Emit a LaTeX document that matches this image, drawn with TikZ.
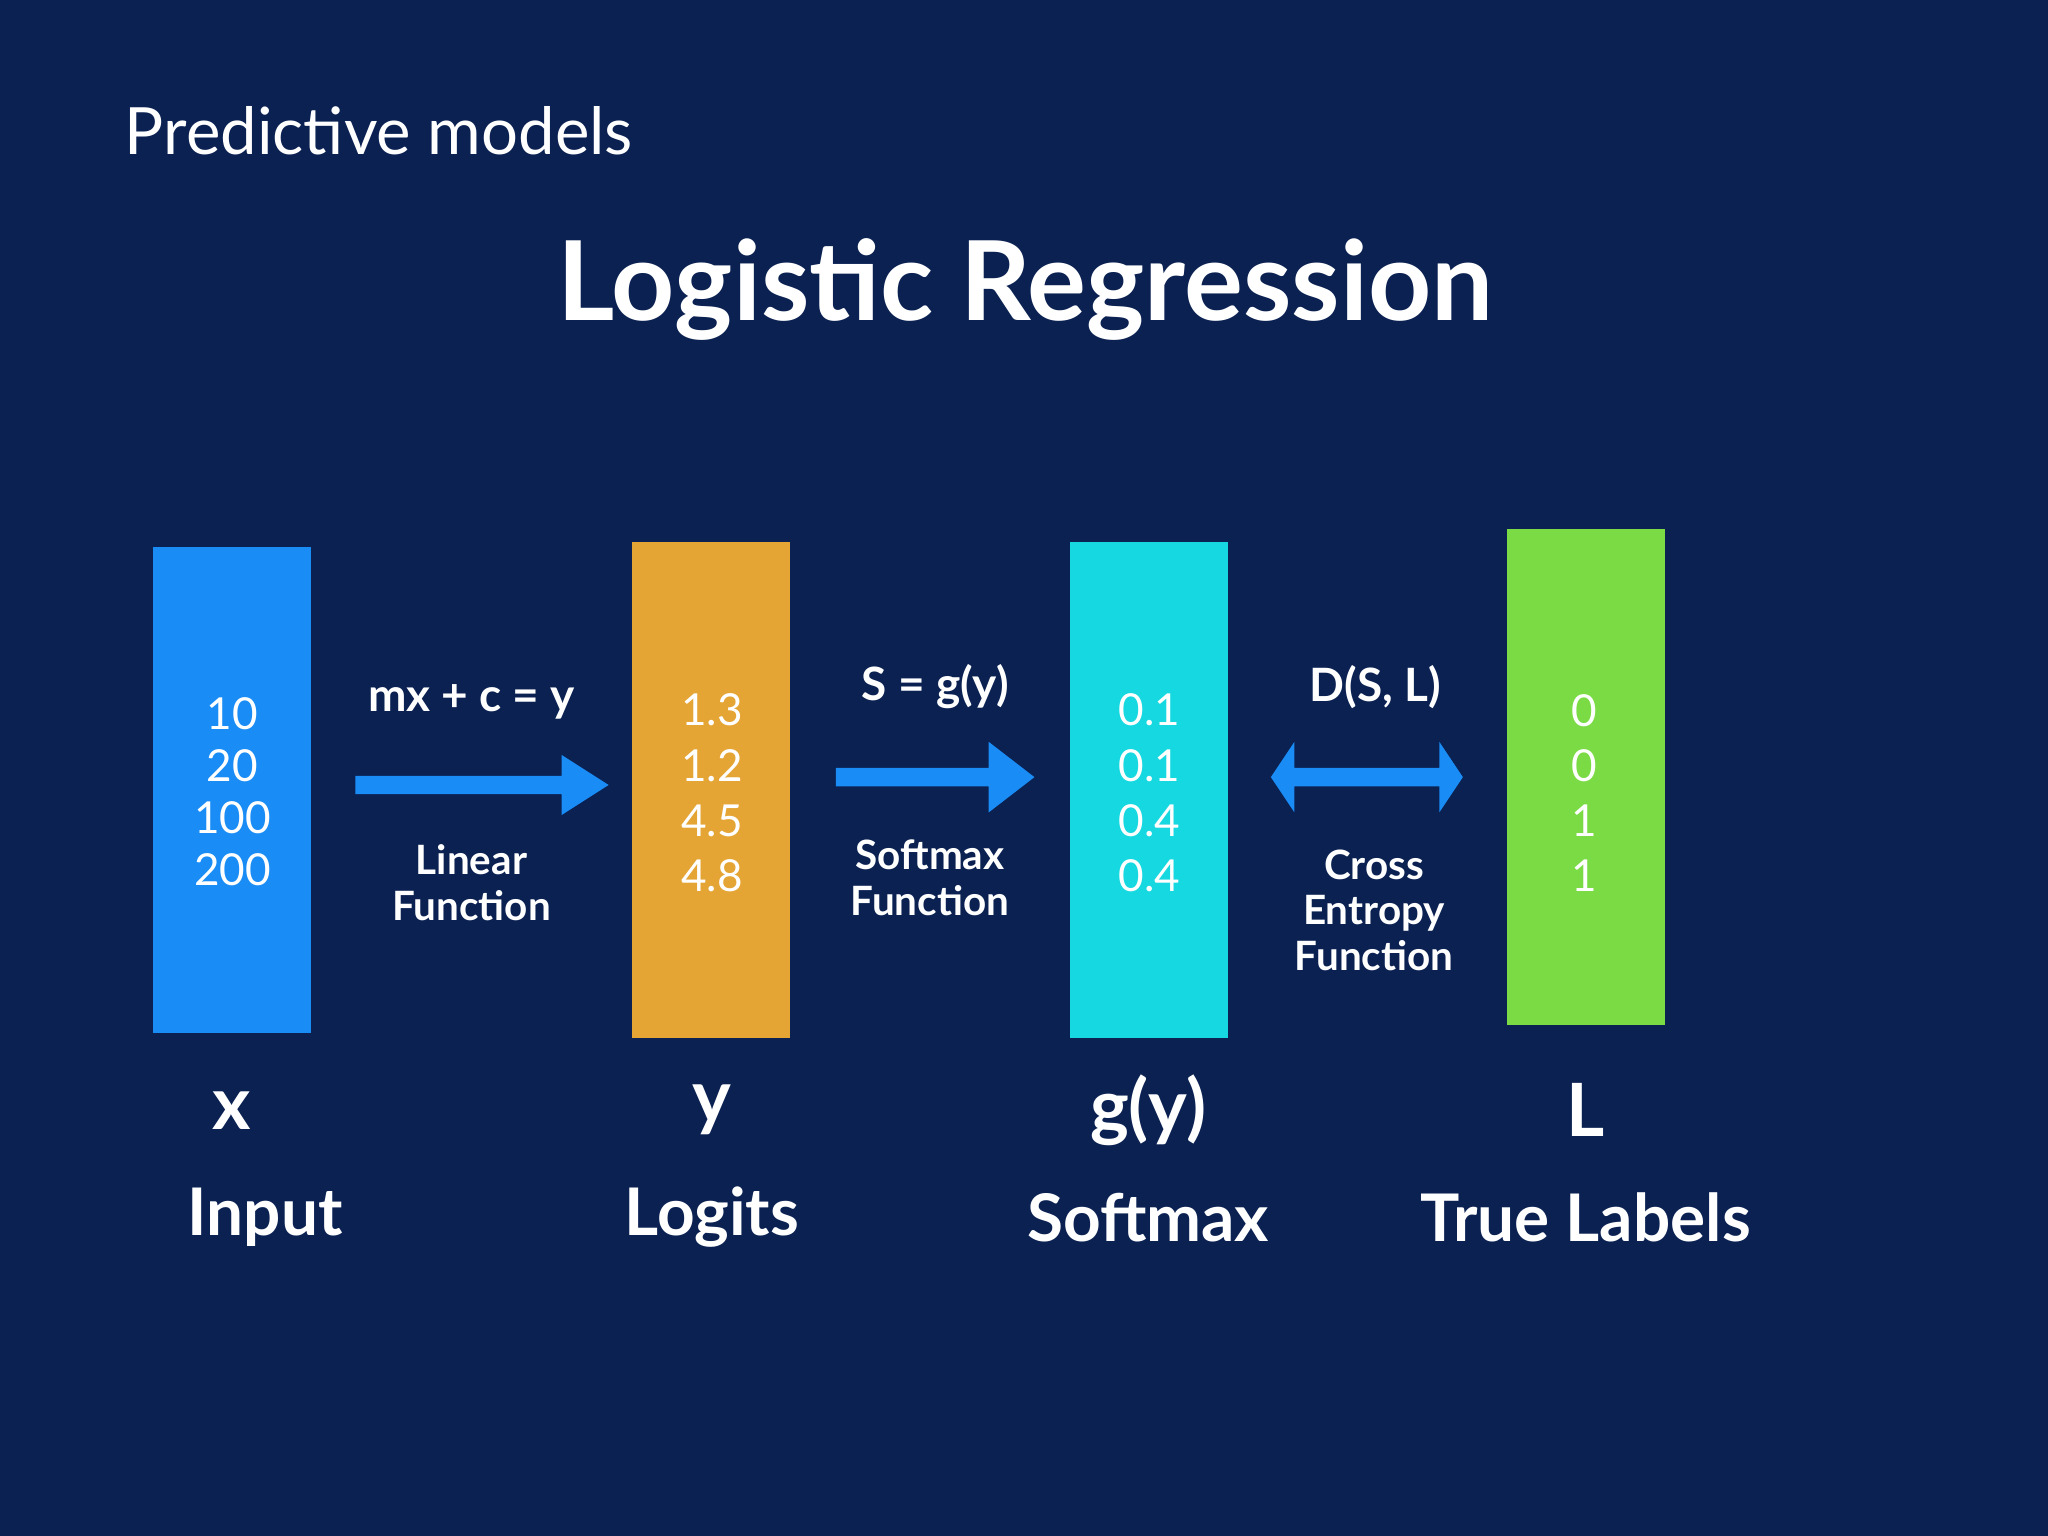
\documentclass[tikz,border=0pt]{standalone}
\usepackage{fontspec}
\setmainfont{Lato}
\definecolor{bg}{HTML}{0A2152}
\definecolor{barblue}{HTML}{1A8CF5}
\definecolor{barorange}{HTML}{E5A535}
\definecolor{barcyan}{HTML}{16D8E0}
\definecolor{bargreen}{HTML}{7ADB45}
\begin{document}
\begin{tikzpicture}[x=0.01cm,y=-0.01cm,
  nums/.style={white,font=\fontsize{9.6}{12}\selectfont,align=center},
  formula/.style={white,font=\bfseries\fontsize{10}{10}\selectfont,align=center},
  small/.style={white,font=\bfseries\fontsize{8.8}{10}\selectfont,align=center},
  var/.style={white,font=\bfseries\fontsize{16}{20}\selectfont},
  big/.style={white,font=\bfseries\fontsize{14.3}{18}\selectfont},
  blk/.style={fill=barblue,draw=none}]
\fill[bg] (0,0) rectangle (1568,1176);
\node[white,anchor=west,inner sep=0pt,font=\fontsize{14.2}{18}\selectfont] (sub) at (95,100) {Predictive models};
\node[white,font=\bfseries\fontsize{24}{28}\selectfont] (title) at (785,222) {Logistic Regression};
% bars
\fill[barblue] (117,419) rectangle (238,791);
\fill[barorange] (484,415) rectangle (605,795);
\fill[barcyan] (819,415) rectangle (940,795);
\fill[bargreen] (1154,405) rectangle (1275,785);
% values
\node[nums,font=\fontsize{9.6}{11.3}\selectfont] (vx) at (178,606) {10\\20\\100\\200};
\node[nums] (vy) at (545,607) {1.3\\1.2\\4.5\\4.8};
\node[nums] (vg) at (880,607) {0.1\\0.1\\0.4\\0.4};
\node[nums] (vl) at (1213,607) {0\\0\\1\\1};
% arrows
\fill[blk] (272,594) -- (430,594) -- (430,578) -- (466,601) -- (430,624) -- (430,608) -- (272,608) -- cycle;
\fill[blk] (640,588) -- (757,588) -- (757,568) -- (792,595) -- (757,622) -- (757,602) -- (640,602) -- cycle;
\fill[blk] (973,595) -- (991,568) -- (991,588) -- (1102,588) -- (1102,568) -- (1120,595) -- (1102,622) -- (1102,602) -- (991,602) -- (991,622) -- cycle;
% arrow labels
\node[formula] (f1) at (361,537) {mx + c = y};
\node[small] (l1) at (361,676) {Linear\\Function};
\node[formula] (f2) at (716,526) {S = g(y)};
\node[small] (l2) at (712,672) {Softmax\\Function};
\node[formula] (f3) at (1053,526) {D(S, L)};
\node[small] (l3) at (1052,697) {Cross\\Entropy\\Function};
% variables
\node[var] (nx) at (177,850) {x};
\node[var] (ny) at (545,850) {y};
\node[var] (ng) at (879,850) {g(y)};
\node[var] (nl) at (1214,850) {L};
\node[big] (tx) at (203,932) {Input};
\node[big] (ty) at (545,932) {Logits};
\node[big] (tg) at (879,932) {Softmax};
\node[big] (tl) at (1214,932) {True Labels};
\end{tikzpicture}
\end{document}
